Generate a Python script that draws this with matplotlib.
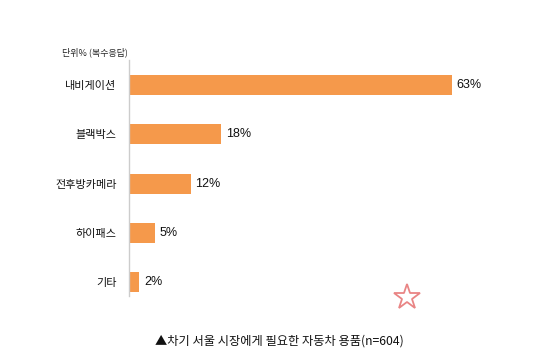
import matplotlib
matplotlib.use("Agg")
import matplotlib.pyplot as plt

# data
categories = ["내비게이션", "블랙박스", "전후방카메라", "하이패스", "기타"]
values = [63, 18, 12, 5, 2]
unit_note = "단위% (복수응답)"
caption = "▲차기 서울 시장에게 필요한 자동차 용품(n=604)"

KR = ["Noto Sans CJK KR", "DejaVu Sans"]
BAR_COLOR = "#F5994B"

W, H = 550, 356
fig = plt.figure(figsize=(W / 100, H / 100), dpi=100)
fig.patch.set_facecolor("white")

# axes placed in pixel terms: axis line at x=129, spans y 60..296
ax = fig.add_axes([129 / W, 1 - 296 / H, (W - 129) / W, 236 / H])
ypos = list(range(len(categories)))
ax.barh(ypos, values, height=0.41, color=BAR_COLOR, zorder=2)
ax.set_xlim(0, (W - 129) / 5.127)
ax.set_ylim(4.28, -0.51)

for y, v in zip(ypos, values):
    ax.annotate(f"{v}%", (v, y), xytext=(3.5, 0), textcoords="offset points",
                ha="left", va="center", fontsize=9, family="Liberation Sans",
                color="#111111")

ax.set_yticks(ypos)
ax.set_yticklabels(categories, family=KR, fontsize=8, fontweight="medium",
                   color="#111111")
ax.tick_params(axis="y", length=0, pad=9)
ax.set_xticks([])
for s in ["top", "right", "bottom"]:
    ax.spines[s].set_visible(False)
ax.spines["left"].set_color("#cccccc")
ax.spines["left"].set_linewidth(1)
ax.patch.set_alpha(0)

fig.text(128 / W, 1 - 52 / H, unit_note, ha="right", va="center",
         fontsize=6.5, family=KR, fontweight="medium", color="#222222")

# little star logo bottom right
fig.add_artist(plt.Line2D([407 / W], [1 - 297 / H], marker="*", markersize=19,
                          markerfacecolor="white", markeredgecolor="#E98585",
                          markeredgewidth=1.3, transform=fig.transFigure))

fig.text(279 / W, 1 - 341 / H, caption, ha="center", va="center",
         fontsize=8.8, family=KR, fontweight="medium", color="#111111")

fig.savefig("out.png", dpi=100)
